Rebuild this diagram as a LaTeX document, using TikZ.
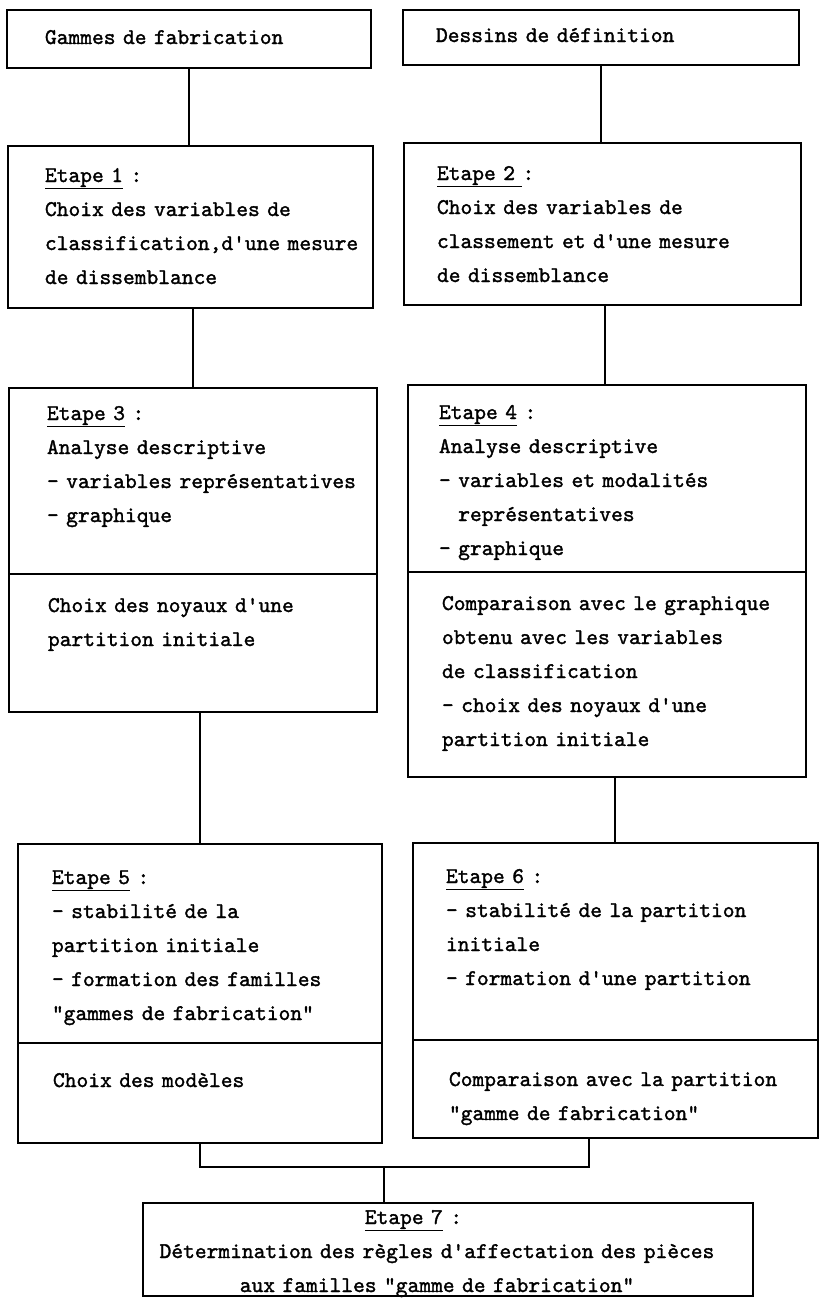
\documentclass[tikz,border=0pt]{standalone}
\usepackage{fontspec}
\newfontfamily\typew[FakeBold=1.5]{lmmono10-regular.otf}
\usetikzlibrary{positioning}

\begin{document}
\begin{tikzpicture}[
    x=1pt, y=-1pt,
    every node/.style={inner sep=0pt, outer sep=0pt},
    frame/.style={draw, line width=2.2pt, anchor=north west},
    txt/.style={anchor=base west, align=left, text width=400pt, font=\typew\fontsize{22.4}{34}\selectfont},
    link/.style={draw, line width=2.2pt}
  ]
  \useasboundingbox (0,0) rectangle (826,1307);

  % frames
  \node[frame, minimum width=364pt, minimum height=58pt] (g) at (7,10) {};
  \node[frame, minimum width=396pt, minimum height=55pt] (d) at (403,10) {};
  \node[frame, minimum width=365pt, minimum height=162pt] (e1) at (8,146) {};
  \node[frame, minimum width=397pt, minimum height=162pt] (e2) at (404,143) {};
  \node[frame, minimum width=368pt, minimum height=186pt] (e3) at (9,388) {};
  \node[frame, minimum width=368pt, minimum height=138pt] (e3b) at (9,574) {};
  \node[frame, minimum width=398pt, minimum height=187pt] (e4) at (408,385) {};
  \node[frame, minimum width=398pt, minimum height=205pt] (e4b) at (408,572) {};
  \node[frame, minimum width=364pt, minimum height=199pt] (e5) at (18,844) {};
  \node[frame, minimum width=364pt, minimum height=100pt] (e5b) at (18,1043) {};
  \node[frame, minimum width=405pt, minimum height=197pt] (e6) at (413,843) {};
  \node[frame, minimum width=405pt, minimum height=98pt] (e6b) at (413,1040) {};
  \node[frame, minimum width=610pt, minimum height=93pt] (e7) at (143,1203) {};

  % texts
  \node[txt] (g-t) at ([shift={(38,34)}]g.north west) {Gammes de fabrication};
  \node[txt] (d-t) at ([shift={(33,32)}]d.north west) {Dessins de définition};
  \node[txt] (e1-t) at ([shift={(37,36)}]e1.north west) {\underline{Etape 1} :\\
    Choix des variables de\\
    classification,d'une mesure\\
    de dissemblance};
  \node[txt] (e2-t) at ([shift={(33,37)}]e2.north west) {\underline{Etape 2~}:\\
    Choix des variables de\\
    classement et d'une mesure\\
    de dissemblance};
  \node[txt] (e3-t) at ([shift={(38,32)}]e3.north west) {\underline{Etape 3} :\\
    Analyse descriptive\\
    - variables représentatives\\
    - graphique};
  \node[txt] (e3b-t) at ([shift={(39,38)}]e3b.north west) {Choix des noyaux d'une\\
    partition initiale};
  \node[txt] (e4-t) at ([shift={(31,34)}]e4.north west) {\underline{Etape 4} :\\
    Analyse descriptive\\
    - variables et modalités\\
    \phantom{- }représentatives\\
    - graphique};
  \node[txt] (e4b-t) at ([shift={(34,38)}]e4b.north west) {Comparaison avec le graphique\\
    obtenu avec les variables\\
    de classification\\
    - choix des noyaux d'une\\
    partition initiale};
  \node[txt] (e5-t) at ([shift={(34,40)}]e5.north west) {\underline{Etape 5} :\\
    - stabilité de la\\
    partition initiale\\
    - formation des familles\\
    "gammes de fabrication"};
  \node[txt] (e5b-t) at ([shift={(35,44)}]e5b.north west) {Choix des modèles};
  \node[txt] (e6-t) at ([shift={(33,40)}]e6.north west) {\underline{Etape 6} :\\
    - stabilité de la partition\\
    initiale\\
    - formation d'une partition};
  \node[txt] (e6b-t) at ([shift={(36,46)}]e6b.north west) {Comparaison avec la partition\\
    "gamme de fabrication"};
  \node[txt, anchor=base, align=center, text width=600pt] (e7-t) at ([shift={(294,21)}]e7.north west) {\underline{Etape 7} :\phantom{xxxx}\\
    Détermination des règles d'affectation des pièces\\
    aux familles "gamme de fabrication"};

  % connectors
  \draw[link] (g.south) -- (g.south |- e1.north);
  \draw[link] (d.south) -- (d.south |- e2.north);
  \draw[link] (e1.south -| e3.north) -- (e3.north);
  \draw[link] (e2.south -| 605,0) -- (605,0 |- e4.north);
  \draw[link] (e3b.south -| e5.north) -- (e5.north);
  \draw[link] (e4b.south -| 615,0) -- (615,0 |- e6.north);
  \coordinate (jr) at (589,1167);
  \coordinate (jm) at (384,1167);
  \draw[link] (e5b.south) |- (jr) -- (jr |- e6b.south);
  \draw[link] (jm) -- (jm |- e7.north);
\end{tikzpicture}
\end{document}
